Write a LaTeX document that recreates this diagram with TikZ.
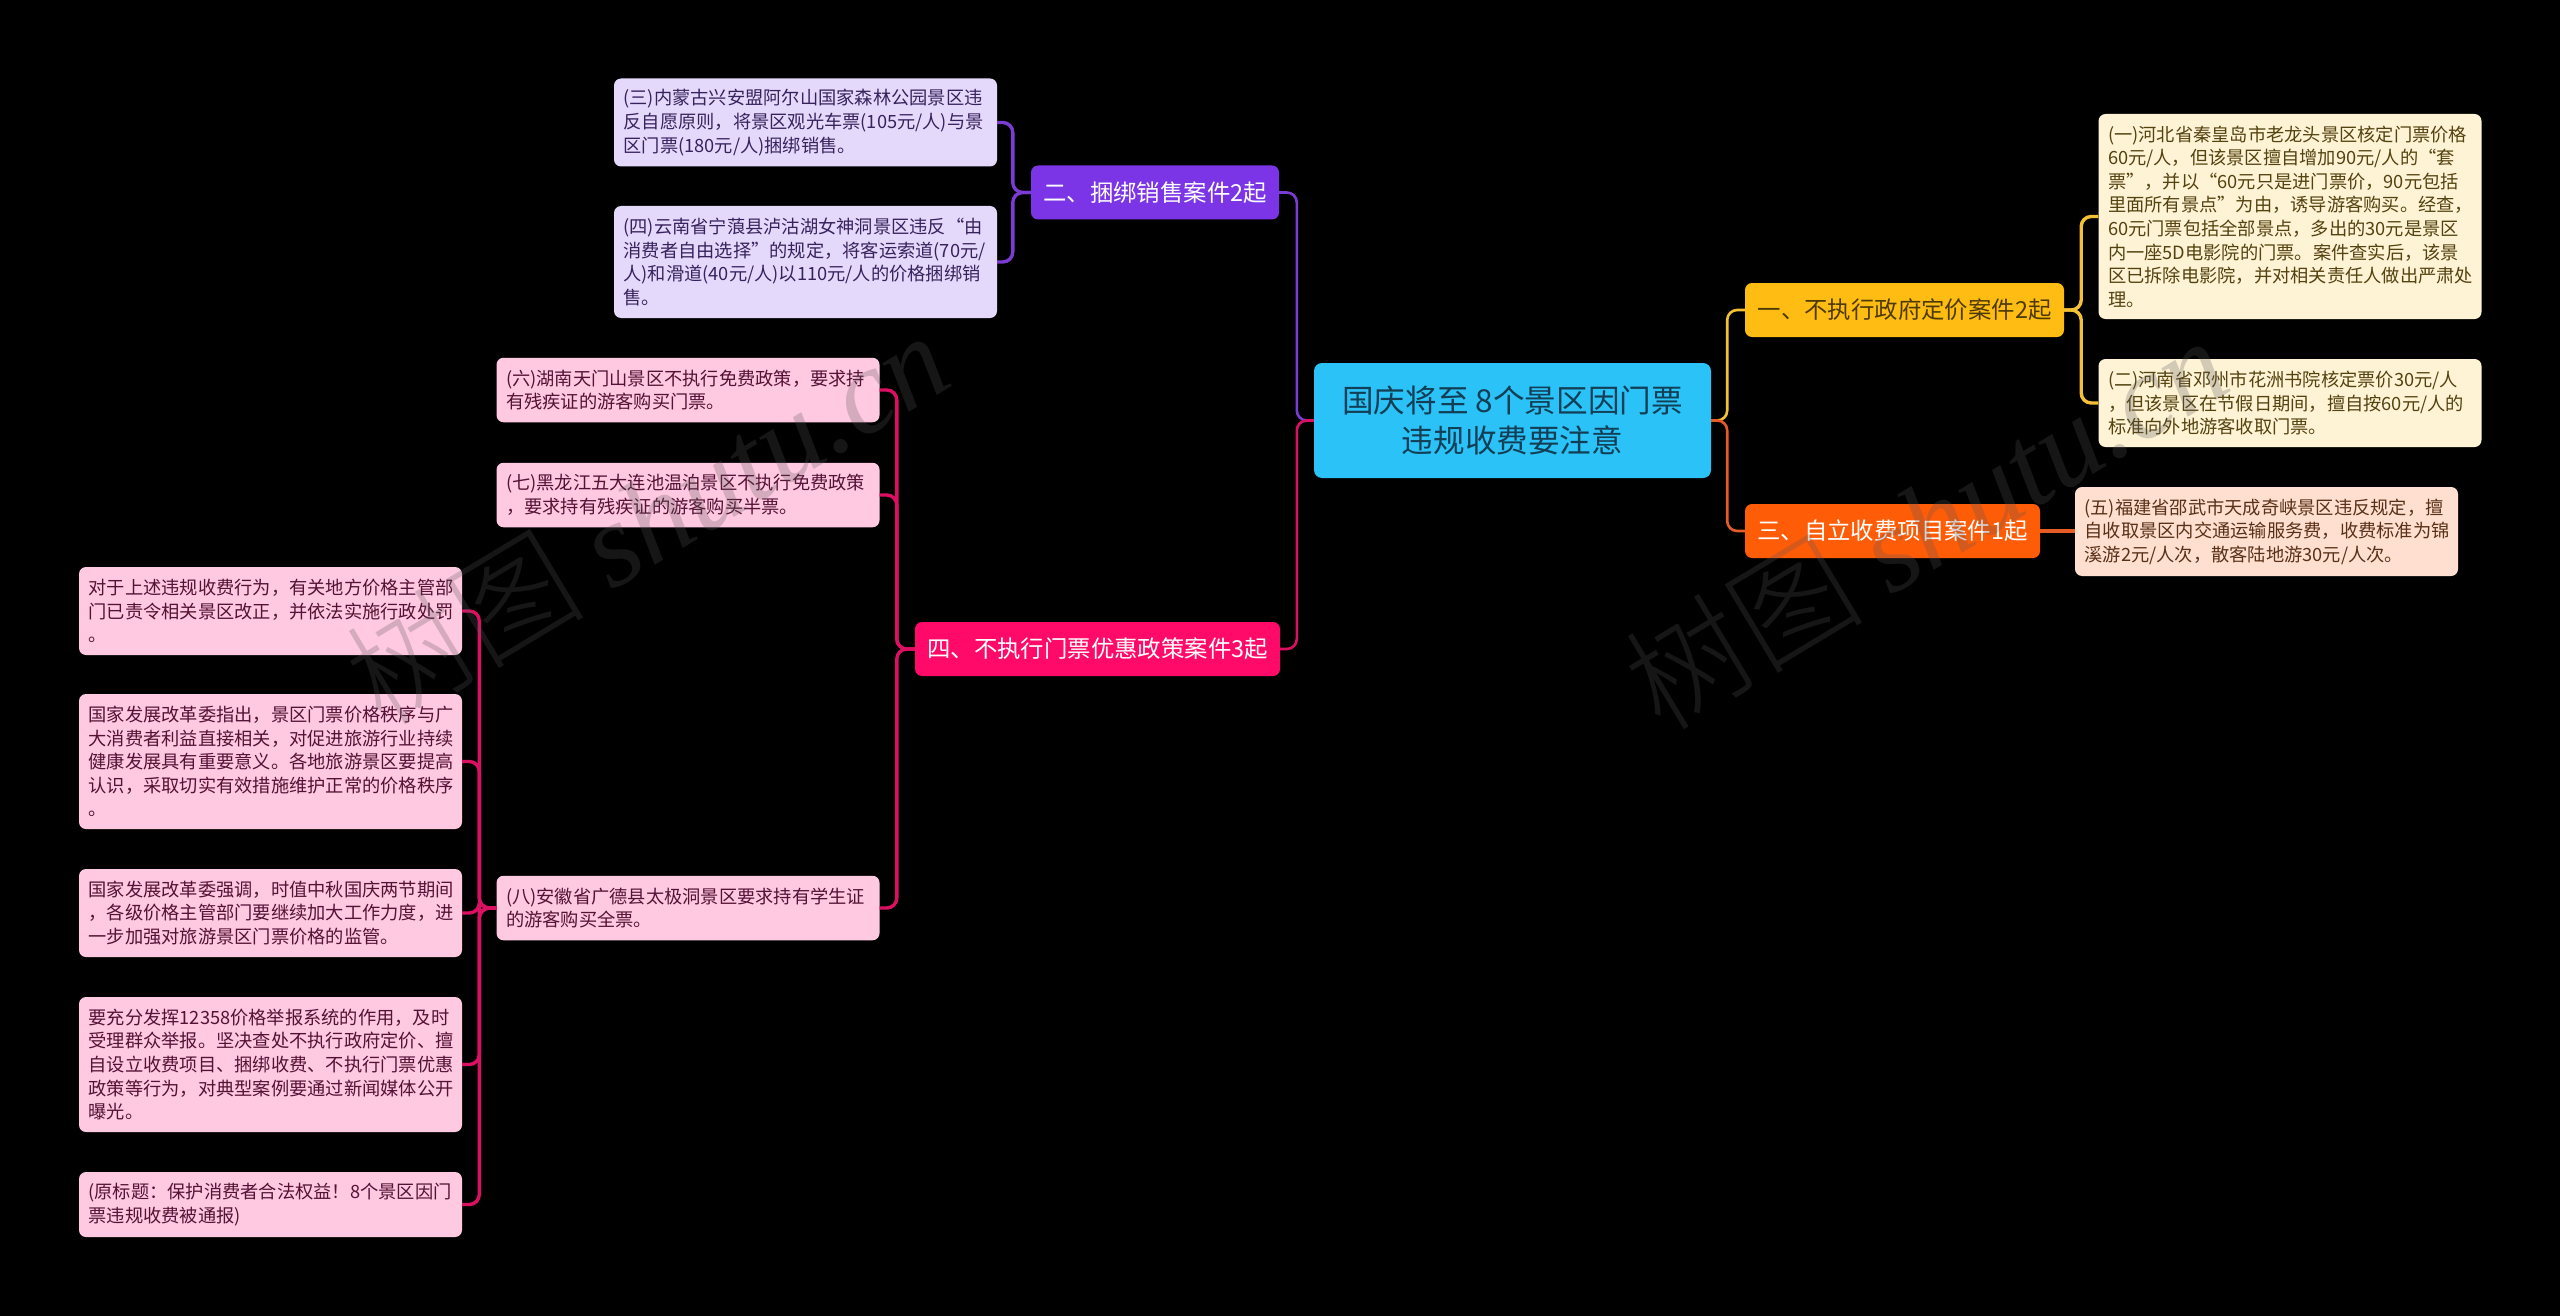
\documentclass[tikz,border=0pt]{standalone}
\usepackage{fontspec}
\setmainfont{Noto Sans CJK SC}
\newfontfamily\wmlatin{Liberation Serif}
\newfontfamily\wmcjk{Noto Sans CJK SC Light}
\definecolor{rootfill}{HTML}{2BC2F8}
\definecolor{roottext}{HTML}{123F55}
\definecolor{purp}{HTML}{7C35E6}
\definecolor{purpline}{HTML}{7A3CD2}
\definecolor{purpleaf}{HTML}{E5D9FB}
\definecolor{purptext}{HTML}{38225E}
\definecolor{gold}{HTML}{FFBC12}
\definecolor{goldline}{HTML}{F4C035}
\definecolor{goldleaf}{HTML}{FFF3D6}
\definecolor{goldtext}{HTML}{54420F}
\definecolor{goldbranchtext}{HTML}{4E3A05}
\definecolor{orng}{HTML}{FF5C08}
\definecolor{orngline}{HTML}{E55C26}
\definecolor{orngleaf}{HTML}{FFE0D0}
\definecolor{orngtext}{HTML}{5A3018}
\definecolor{rose}{HTML}{FF0A68}
\definecolor{roseline}{HTML}{DB1062}
\definecolor{roseleaf}{HTML}{FFC9E1}
\definecolor{rosetext}{HTML}{551236}
\tikzset{
  x=1pt,y=-1pt,
  leafbox/.style={rounded corners=7pt,inner xsep=9.5pt,inner ysep=0pt,text width=364pt,align=left,
    font=\fontsize{18.25}{23.6}\selectfont},
  branchbox/.style={rounded corners=7pt,inner sep=0pt,minimum height=54pt,align=center,
    font=\fontsize{23.4}{30}\selectfont},
  rootbox/.style={rounded corners=8pt,inner sep=0pt,fill=rootfill,text=roottext,align=center,
    minimum width=397pt,minimum height=115pt,font=\fontsize{31.6}{40}\selectfont},
  purpleleaf/.style={leafbox,fill=purpleaf,text=purptext},
  roseleafbox/.style={leafbox,fill=roseleaf,text=rosetext},
  goldleafbox/.style={leafbox,fill=goldleaf,text=goldtext},
  orngleafbox/.style={leafbox,fill=orngleaf,text=orngtext},
  link/.style={line width=3.4pt,rounded corners=10pt},
  watermark/.style={rotate=31,inner sep=0pt,text=black!66!white,text opacity=.26,
    font=\fontsize{120}{130}\selectfont}
}
\begin{document}
\begin{tikzpicture}
\fill[black] (0,0) rectangle (2560,1316);
\useasboundingbox (0,0) rectangle (2560,1316);

% nodes
\node[rootbox] (root) at (1512.5,420.5) {国庆将至 8个景区因门票\\违规收费要注意};

\node[branchbox,fill=purp,text=white,minimum width=248pt] (b2) at (1155,192.5) {二、捆绑销售案件2起};
\node[branchbox,fill=gold,text=goldbranchtext,minimum width=319pt] (b1) at (1904.5,310) {一、不执行政府定价案件2起};
\node[branchbox,fill=orng,text=white,minimum width=295pt] (b3) at (1892.5,531) {三、自立收费项目案件1起};
\node[branchbox,fill=rose,text=white,minimum width=365pt] (b4) at (1097.5,649) {四、不执行门票优惠政策案件3起};

\node[purpleleaf,minimum height=88pt] (l3) at (805.5,122.5) {(三)内蒙古兴安盟阿尔山国家森林公园景区违\\反自愿原则，将景区观光车票(105元/人)与景\\区门票(180元/人)捆绑销售。};
\node[purpleleaf,minimum height=112pt] (l4) at (805.5,262) {(四)云南省宁蒗县泸沽湖女神洞景区违反“由\\消费者自由选择”的规定，将客运索道(70元/\\人)和滑道(40元/人)以110元/人的价格捆绑销\\售。};

\node[roseleafbox,minimum height=64.5pt] (l6) at (688,390) {(六)湖南天门山景区不执行免费政策，要求持\\有残疾证的游客购买门票。};
\node[roseleafbox,minimum height=64.5pt] (l7) at (688,495) {(七)黑龙江五大连池温泊景区不执行免费政策\\，要求持有残疾证的游客购买半票。};
\node[roseleafbox,minimum height=64.5pt] (l8) at (688,908) {(八)安徽省广德县太极洞景区要求持有学生证\\的游客购买全票。};

\node[roseleafbox,minimum height=88pt] (n1) at (270.5,611) {对于上述违规收费行为，有关地方价格主管部\\门已责令相关景区改正，并依法实施行政处罚\\。};
\node[roseleafbox,minimum height=135pt] (n2) at (270.5,761.5) {国家发展改革委指出，景区门票价格秩序与广\\大消费者利益直接相关，对促进旅游行业持续\\健康发展具有重要意义。各地旅游景区要提高\\认识，采取切实有效措施维护正常的价格秩序\\。};
\node[roseleafbox,minimum height=88pt] (n3) at (270.5,913) {国家发展改革委强调，时值中秋国庆两节期间\\，各级价格主管部门要继续加大工作力度，进\\一步加强对旅游景区门票价格的监管。};
\node[roseleafbox,minimum height=135pt] (n4) at (270.5,1064.5) {要充分发挥12358价格举报系统的作用，及时\\受理群众举报。坚决查处不执行政府定价、擅\\自设立收费项目、捆绑收费、不执行门票优惠\\政策等行为，对典型案例要通过新闻媒体公开\\曝光。};
\node[roseleafbox,minimum height=65pt] (n5) at (270.5,1204.5) {(原标题：保护消费者合法权益！8个景区因门\\票违规收费被通报)};

\node[goldleafbox,minimum height=205pt] (l1) at (2290,216.5) {(一)河北省秦皇岛市老龙头景区核定门票价格\\60元/人，但该景区擅自增加90元/人的“套\\票”，并以“60元只是进门票价，90元包括\\里面所有景点”为由，诱导游客购买。经查，\\60元门票包括全部景点，多出的30元是景区\\内一座5D电影院的门票。案件查实后，该景\\区已拆除电影院，并对相关责任人做出严肃处\\理。};
\node[goldleafbox,minimum height=88pt] (l2) at (2290,403) {(二)河南省邓州市花洲书院核定票价30元/人\\，但该景区在节假日期间，擅自按60元/人的\\标准向外地游客收取门票。};
\node[orngleafbox,minimum height=89pt] (l5) at (2266.5,531.5) {(五)福建省邵武市天成奇峡景区违反规定，擅\\自收取景区内交通运输服务费，收费标准为锦\\溪游2元/人次，散客陆地游30元/人次。};

% connectors
\draw[link,purpline] (b2.west) -- ++(-18,0) |- (l3.east);
\draw[link,purpline] (b2.west) -- ++(-18,0) |- (l4.east);
\draw[link,goldline] (b1.east) -- ++(17,0) |- (l1.west);
\draw[link,goldline] (b1.east) -- ++(17,0) |- (l2.west);
\draw[link,orngline] (b3.east) -- (l5.west |- b3.east);

\draw[link,roseline] (b4.west) -- ++(-18,0) |- (l6.east);
\draw[link,roseline] (b4.west) -- ++(-18,0) |- (l7.east);
\draw[link,roseline] (b4.west) -- ++(-18,0) |- (l8.east);

\draw[link,roseline] (l8.west) -- ++(-17,0) |- (n1.east);
\draw[link,roseline] (l8.west) -- ++(-17,0) |- (n2.east);
\draw[link,roseline] (l8.west) -- ++(-17,0) |- (n3.east);
\draw[link,roseline] (l8.west) -- ++(-17,0) |- (n4.east);
\draw[link,roseline] (l8.west) -- ++(-17,0) |- (n5.east);

\draw[link,line width=2.6pt,purpline] (root.west) -- ++(-17,0) |- (b2.east);
\draw[link,line width=2.6pt,roseline] (root.west) -- ++(-17,0) |- (b4.east);
\draw[link,line width=2.6pt,goldline] (root.east) -- ++(16,0) |- (b1.west);
\draw[link,line width=2.6pt,orngline] (root.east) -- ++(16,0) |- (b3.west);

% watermarks
\node[watermark] (wm1) at (646,517) {{\wmcjk 树图} {\wmlatin\itshape shutu.cn}};
\node[watermark] (wm2) at (1925,522) {{\wmcjk 树图} {\wmlatin\itshape shutu.cn}};
\end{tikzpicture}
\end{document}
